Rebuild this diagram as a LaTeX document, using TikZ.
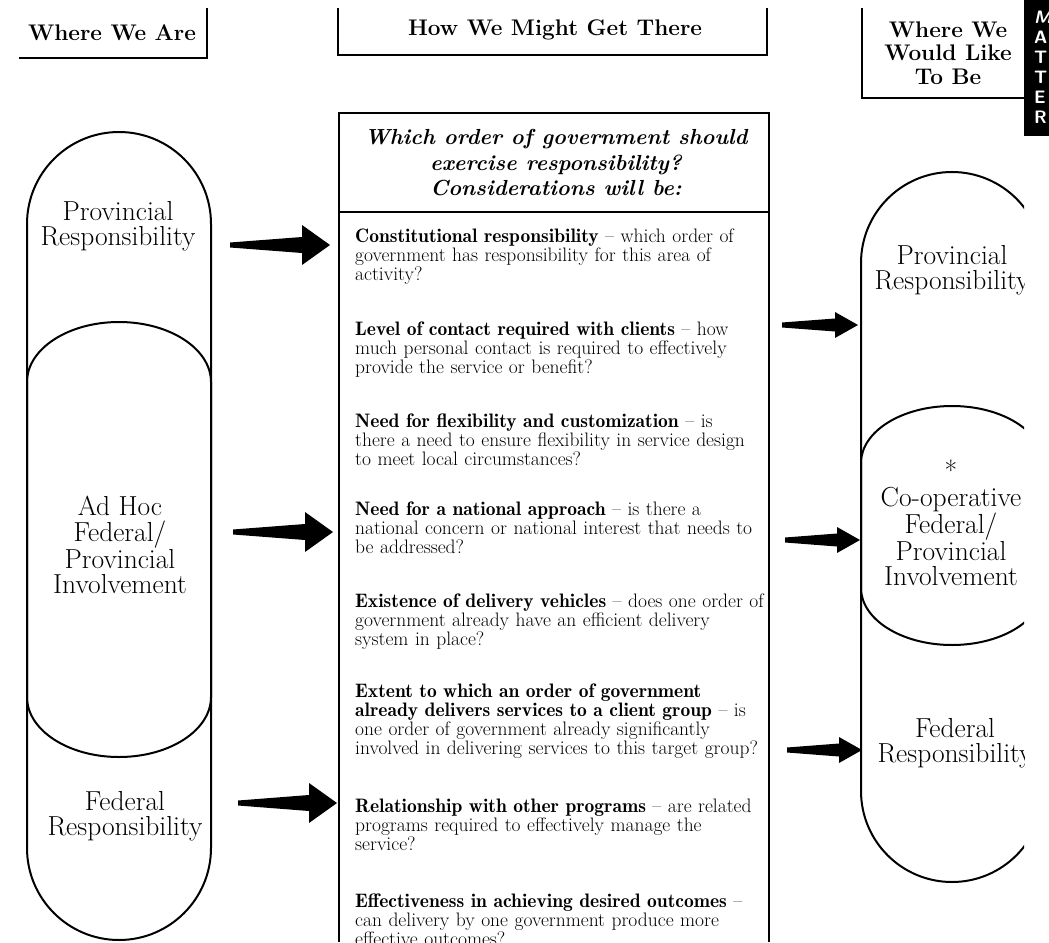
\documentclass[tikz,border=0pt]{standalone}
\usepackage{tikz}
\usetikzlibrary{positioning}
\usetikzlibrary{calc}

\newcommand{\lead}[1]{{\fontseries{b}\selectfont #1}}

\tikzset{
  boxline/.style={line width=2.2pt},
  pill/.style={line width=2pt},
  blockarrow/.style n args={3}{to path={-- ($(\tikztostart)+(0,-2.5)$)
      -- ($(\tikztotarget)+(-#1,-#3)$) -- ($(\tikztotarget)+(-#1,-#2)$)
      -- (\tikztotarget)
      -- ($(\tikztotarget)+(-#1,#2)$) -- ($(\tikztotarget)+(-#1,#3)$)
      -- ($(\tikztostart)+(0,2.5)$) -- cycle}},
  colhead/.style={font=\fontsize{22.6}{23.5}\selectfont\bfseries, align=center, inner sep=0},
  pilltext/.style={font=\fontsize{27.5}{25.5}\selectfont, align=center, inner sep=0},
  consider/.style={font=\fontsize{19.5}{19.3}\selectfont, text width=500pt, align=left, inner sep=0, anchor=base west},
}

\begin{document}
\begin{tikzpicture}[x=1pt, y=-1pt]
\useasboundingbox (0,0) rectangle (1049,942);

% column heads
\draw[boxline] (207,8) -- (207,58) -- (19,58);
\draw[boxline] (338,8) -- (338,55) -- (767,55) -- (767,8);
\draw[boxline] (862,8) -- (862,98) -- (1024,98);
\node (here) [colhead] at (112,33) {Where We Are};
\node (how)  [colhead] at (555,30) {How We Might Get There};
\node (goal) [colhead] at (948,53) {Where We\\Would Like\\To Be};

% side tab
\fill (1024,0) rectangle (1049,136);
\node (tab) [font=\fontsize{18}{20}\selectfont\sffamily\bfseries, text=white, align=left, inner sep=0, anchor=north west] at (1034,11) {\textit{M}\\A\\T\\T\\E\\R};

% where we are
\draw[pill] (27,224) arc[start angle=180, end angle=360, radius=92] -- (211,848)
  arc[start angle=0, end angle=180, radius=92] -- cycle;
\draw[pill] (27,382) arc[start angle=180, end angle=360, x radius=92, y radius=60] -- (211,697)
  arc[start angle=0, end angle=180, x radius=92, y radius=60] -- cycle;
\node (lprov) [pilltext] at (118,226) {Provincial\\Responsibility};
\node (ladhoc) [pilltext] at (120,545) {Ad Hoc\\Federal/\\Provincial\\Involvement};
\node (lfed) [pilltext] at (125,816) {Federal\\Responsibility};

% how we might get there
\draw[boxline] (339,942) -- (339,113) -- (769,113) -- (769,942);
\draw[boxline] (339,212) -- (769,212);
\node (ask) [font=\fontsize{21.8}{25.5}\selectfont\bfseries\itshape, align=center, inner sep=0] at (556,163)
  {Which order of government should\\exercise responsibility?\\Considerations will be:};

\node (c1) [consider] at (355,242) {\lead{Constitutional responsibility} -- which order of\\government has responsibility for this area of\\activity?};
\node (c2) [consider] at (355,335) {\lead{Level of contact required with clients} -- how\\much personal contact is required to effectively\\provide the service or benefit?};
\node (c3) [consider] at (355,427) {\lead{Need for flexibility and customization} -- is\\there a need to ensure flexibility in service design\\to meet local circumstances?};
\node (c4) [consider] at (355,515) {\lead{Need for a national approach} -- is there a\\national concern or national interest that needs to\\be addressed?};
\node (c5) [consider] at (355,607) {\lead{Existence of delivery vehicles} -- does one order of\\government already have an efficient delivery\\system in place?};
\node (c6) [consider] at (355,697) {\lead{Extent to which an order of government}\\\lead{already delivers services to a client group} -- is\\one order of government already significantly\\involved in delivering services to this target group?};
\node (c7) [consider] at (355,812) {\lead{Relationship with other programs} -- are related\\programs required to effectively manage the\\service?};
\node (c8) [consider] at (355,907) {\lead{Effectiveness in achieving desired outcomes} --\\can delivery by one government produce more\\effective outcomes?};

% where we would like to be
\begin{scope}
\clip (840,150) rectangle (1024,942);
\draw[pill] (861,263) arc[start angle=180, end angle=360, radius=91] -- (1043,791)
  arc[start angle=0, end angle=180, radius=91] -- cycle;
\draw[pill] (861,463) arc[start angle=180, end angle=360, x radius=91, y radius=57] -- (1043,588)
  arc[start angle=0, end angle=180, x radius=91, y radius=57] -- cycle;
\node (rprov) [pilltext] at (952,270) {Provincial\\Responsibility};
\node (rcoop) [pilltext] at (951,523) {*\\Co-operative\\Federal/\\Provincial\\Involvement};
\node (rfed) [pilltext] at (955,743) {Federal\\Responsibility};
\end{scope}

% arrows
\coordinate (lt1) at (230,245); \coordinate (lh1) at (330,245);
\coordinate (lt2) at (233,532); \coordinate (lh2) at (333,532);
\coordinate (lt3) at (238,803); \coordinate (lh3) at (337,803);
\coordinate (rt1) at (782,325); \coordinate (rh1) at (858,325);
\coordinate (rt2) at (785,540); \coordinate (rh2) at (860,540);
\coordinate (rt3) at (787,750); \coordinate (rh3) at (862,750);
\fill (lt1) to[blockarrow={28}{20}{8}] (lh1);
\fill (lt2) to[blockarrow={28}{20}{8}] (lh2);
\fill (lt3) to[blockarrow={28}{20}{8}] (lh3);
\fill (rt1) to[blockarrow={23}{13}{6.5}] (rh1);
\fill (rt2) to[blockarrow={23}{13}{6.5}] (rh2);
\fill (rt3) to[blockarrow={23}{13}{6.5}] (rh3);
\end{tikzpicture}
\end{document}
